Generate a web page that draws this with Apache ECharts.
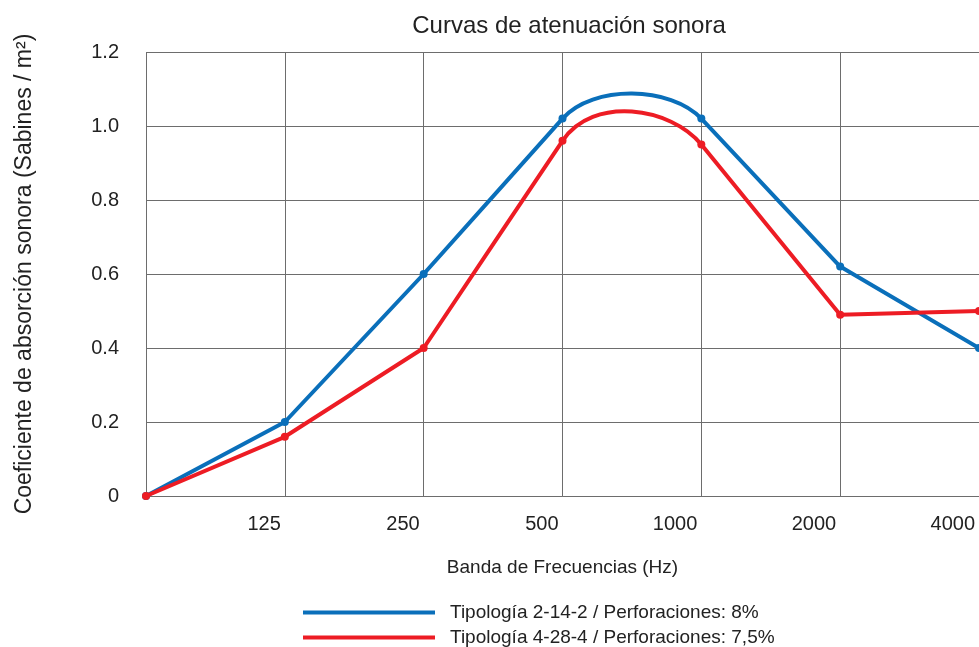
<!DOCTYPE html>
<html><head><meta charset="utf-8">
<script src="https://cdn.jsdelivr.net/npm/echarts@6/dist/echarts.min.js"></script>
<style>html,body{margin:0;padding:0;background:#fff}#c{width:979px;height:647px}</style>
</head><body><div id="c"></div>
<script>
const categories = ['', '125', '250', '500', '1000', '2000', '4000'];
const blueValues = [0, 0.2, 0.6, 1.02, 1.02, 0.62, 0.4];
const redValues = [0, 0.16, 0.4, 0.96, 0.95, 0.49, 0.5];
const seriesNames = ['Tipología 2-14-2 / Perforaciones: 8%', 'Tipología 4-28-4 / Perforaciones: 7,5%'];
const yTicks = [0, 0.2, 0.4, 0.6, 0.8, 1.0, 1.2];
const smoothCategories = ['500', '1000'];   // points where the drawn curve is rounded

const FONT = '"Liberation Sans", Arial, sans-serif';
const BLUE = '#0a6fba', RED = '#ed1c24';
const HANDLE = 0.22;

function makeRender(values, color) {
  return function (params, api) {
    const children = [];
    if (params.dataIndex === 0) {
      const pts = values.map((v, i) => api.coord([i, v]));
      const smooth = categories.map(c => smoothCategories.indexOf(c) >= 0);
      // tangent slope at smooth points: along the steeper adjacent chord
      const slope = pts.map((p, i) => {
        if (!smooth[i] || i === 0 || i === pts.length - 1) return null;
        const s0 = (p[1] - pts[i - 1][1]) / (p[0] - pts[i - 1][0]);
        const s1 = (pts[i + 1][1] - p[1]) / (pts[i + 1][0] - p[0]);
        return Math.abs(s0) > Math.abs(s1) ? s0 : s1;
      });
      let d = 'M' + pts[0][0] + ' ' + pts[0][1];
      for (let i = 0; i < pts.length - 1; i++) {
        const a = pts[i], b = pts[i + 1];
        const h = (b[0] - a[0]) * HANDLE;
        const c1 = slope[i] === null ? a : [a[0] + h, a[1] + slope[i] * h];
        const c2 = slope[i + 1] === null ? b : [b[0] - h, b[1] - slope[i + 1] * h];
        d += ' C' + c1[0] + ' ' + c1[1] + ' ' + c2[0] + ' ' + c2[1] + ' ' + b[0] + ' ' + b[1];
      }
      children.push({type: 'path', shape: {pathData: d},
        style: {fill: 'none', stroke: color, lineWidth: 4, lineJoin: 'round', lineCap: 'round'}});
    }
    const p = api.coord([api.value(0), api.value(1)]);
    children.push({type: 'circle', shape: {cx: p[0], cy: p[1], r: 4}, style: {fill: color}});
    return {type: 'group', children: children};
  };
}

const chart = echarts.init(document.getElementById('c'), null, {renderer: 'canvas'});
chart.setOption({
  animation: false,
  backgroundColor: '#fff',
  textStyle: {fontFamily: FONT},
  title: {
    text: 'Curvas de atenuación sonora',
    left: 564, top: 9, textAlign: 'center',
    textStyle: {fontFamily: FONT, fontWeight: 'normal', fontSize: 24, color: '#222'}
  },
  grid: {left: 146, top: 52, width: 834, height: 444, containLabel: false},
  legend: [
    {left: 298, top: 598, icon: 'rect', itemWidth: 132, itemHeight: 4,
     textStyle: {fontFamily: FONT, fontSize: 19, color: '#222', padding: [0, 0, 0, 10]},
     data: [seriesNames[0]]},
    {left: 298, top: 623, icon: 'rect', itemWidth: 132, itemHeight: 4,
     textStyle: {fontFamily: FONT, fontSize: 19, color: '#222', padding: [0, 0, 0, 10]},
     data: [seriesNames[1]]}
  ],
  xAxis: {
    type: 'category', data: categories, boundaryGap: false,
    name: 'Banda de Frecuencias (Hz)', nameLocation: 'middle', nameGap: 62,
    nameTextStyle: {fontFamily: FONT, fontSize: 19, color: '#222'},
    axisLine: {lineStyle: {color: '#6d6d6d', width: 1}},
    axisTick: {show: false},
    axisLabel: {fontFamily: FONT, fontSize: 20, color: '#222', align: 'right', padding: [0, 4, 0, 0], margin: 18},
    splitLine: {show: true, lineStyle: {color: '#6d6d6d', width: 1}}
  },
  yAxis: {
    type: 'value', min: 0, max: 1.2, interval: 0.2,
    name: 'Coeficiente de absorción sonora (Sabines / m²)', nameLocation: 'middle', nameGap: 110,
    nameTextStyle: {fontFamily: FONT, fontSize: 23, color: '#222'},
    axisLine: {show: false}, axisTick: {show: false},
    axisLabel: {fontFamily: FONT, fontSize: 20, color: '#222', margin: 27,
      formatter: v => { const t = yTicks.find(x => Math.abs(x - v) < 1e-6); return t === 0 ? '0' : (t !== undefined ? t.toFixed(1) : ''); }},
    splitLine: {show: true, lineStyle: {color: '#6d6d6d', width: 1}}
  },
  series: [
    {name: seriesNames[0], type: 'custom', renderItem: makeRender(blueValues, BLUE),
     itemStyle: {color: BLUE}, encode: {x: 0, y: 1}, z: 3,
     data: blueValues.map((v, i) => [i, v])},
    {name: seriesNames[1], type: 'custom', renderItem: makeRender(redValues, RED),
     itemStyle: {color: RED}, encode: {x: 0, y: 1}, z: 4,
     data: redValues.map((v, i) => [i, v])}
  ]
});
</script></body></html>
